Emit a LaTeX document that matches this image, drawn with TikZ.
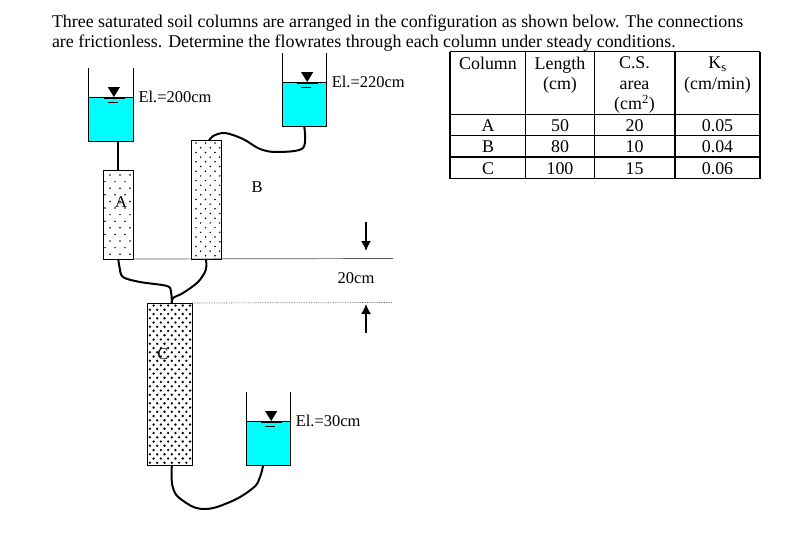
\documentclass[tikz,border=0pt]{standalone}
\usepackage{fontspec}
\setmainfont{Liberation Serif}
\usetikzlibrary{positioning,arrows.meta}
\definecolor{water}{HTML}{00FFFF}
\tikzset{
    every node/.style={inner sep=0,outer sep=0,font=\fontsize{16.5}{20.5}\selectfont},
    big/.style={font=\fontsize{17.9}{20.5}\selectfont},
    tank/.style={draw,fill=water,line width=.9pt,minimum width=44.3pt,minimum height=44pt},
    column/.style={draw,line width=.9pt,minimum width=#1},
    pipe/.style={line width=2pt,line join=round},
    level/.style={gray!70!black,line width=.7pt},
    cell/.style={big,align=center,anchor=base}
}
\begin{document}
\begin{tikzpicture}[x=1pt,y=-1pt]
    \useasboundingbox(0,0)rectangle(798,533);
    \node[big,anchor=west](line1)at(52,23){Three saturated soil columns are arranged in the configuration as shown below. The connections};
    \node[big,anchor=west](line2)at(52,43){are frictionless. Determine the flowrates through each column under steady conditions.};
    \foreach\x/\y/\n/\t in{88.7/97/tankA/200,282/82/tankB/220,246/421/tankC/30}{
        \node[tank,anchor=north west](\n)at(\x,\y){};
        \draw[line width=.9pt](\n.north west)--++(0,-29);
        \draw[line width=.9pt](\n.north east)--++(0,-29);
        \begin{scope}[shift={(\x,\y)}]
            \fill(19,-10)--(31.3,-10)--(25.2,0)--cycle;
            \draw[line width=1.4pt](15.3,1.3)--(36.3,1.3);
            \draw[line width=1pt](19.3,5)--(29.3,5);
        \end{scope}
        \node[right=5.5pt of \n.north east](label\n){El.=\t cm};
    }
    \node[column=29.3pt,minimum height=88.3pt](colA)at(118.3,214.85){};
    \node[column=30pt,minimum height=118.3pt](colB)at(206,199.85){};
    \node[column=44.3pt,minimum height=162pt](colC)at(169.9,384){};
    \foreach\i in{0,...,2}
    \foreach\j in{0,...,12}
        \fill({110+\i*10-5*mod(\j,2)},{175+\j*6.6})circle[radius=.85];
    \foreach\i in{0,...,2}
    \foreach\j in{0,...,24}
        \fill({196+\i*9.5+4.7*mod(\j,2)},{143+\j*4.7})circle[radius=.85];
    \foreach\i in{0,...,5}
    \foreach\j in{0,...,37}
        \fill({149.9+\i*7.3+3.65*mod(\j+1,2)},{305.5+\j*4.25})circle[radius=1.3];
    \node(nameA)at(121,202.5){A};
    \node(nameB)at(257,187.5){B};
    \node(nameC)at(163,354.5){C};
    \draw[pipe](tankA.south-|colA.north)--(colA.north);
    \draw[pipe]plot[smooth,tension=.55]coordinates{(tankB.south)(303,148)(277,152)(260,149)(243,139)(225,133)(213,136)([xshift=3pt]colB.north)};
    \draw[pipe]plot[smooth,tension=.55]coordinates{(colA.south)(119.5,267)(123,277)(140,282)(167,286)(171,292)([xshift=2pt]colC.north)};
    \draw[pipe]plot[smooth,tension=.55]coordinates{(colB.south)(205.7,270)(198,282)(183,293)(173,298)([xshift=2pt]colC.north)};
    \draw[pipe]plot[smooth,tension=.7]coordinates{([xshift=2pt]colC.south)(172.7,487)(182,500)(203,509)(230,502)(253,488)(260,477)([xshift=-5pt]tankC.south)};
    \coordinate(topend)at(393,258.5);
    \coordinate(botend)at(392,302.5);
    \draw[level](colA.south east)--(topend);
    \draw[level,densely dotted](colC.north east)--(botend);
    \coordinate(downtail)at(366,222);
    \coordinate(downtip)at(366,251);
    \coordinate(uptail)at(366,333);
    \coordinate(uptip)at(366,304);
    \draw[line width=1.5pt,-{Latex[length=10pt,width=10pt]}](downtail)--(downtip);
    \draw[line width=1.5pt,-{Latex[length=10pt,width=10pt]}](uptail)--(uptip);
    \node(gap)at(356,278.5){20cm};
    \foreach\x in{450,525.7,594.3,675,760}
        \draw[line width=1.1pt](\x,51.7)--(\x,178.7);
    \foreach\y in{51.7,114.7,135.7,157,178.7}
        \draw[line width=1.1pt](450,\y)--(760,\y);
    \node[cell](head1)at(488,69){Column};
    \node[cell,anchor=north](head2)at(560,57){Length\\(cm)};
    \node[cell,anchor=north](head3)at(634.5,57){C.S.\\area\\(cm\textsuperscript{2})};
    \node[cell,anchor=north](head4)at(717.5,57){K\textsubscript{s}\\(cm/min)};
    \foreach\y/\n/\a/\b/\c/\d in{131/1/A/50/20/0.05,152/2/B/80/10/0.04,174/3/C/100/15/0.06}{
        \node[cell](row\n a)at(488,\y){\a};
        \node[cell](row\n b)at(560,\y){\b};
        \node[cell](row\n c)at(634.5,\y){\c};
        \node[cell](row\n d)at(717.5,\y){\d};
    }
\end{tikzpicture}
\end{document}
